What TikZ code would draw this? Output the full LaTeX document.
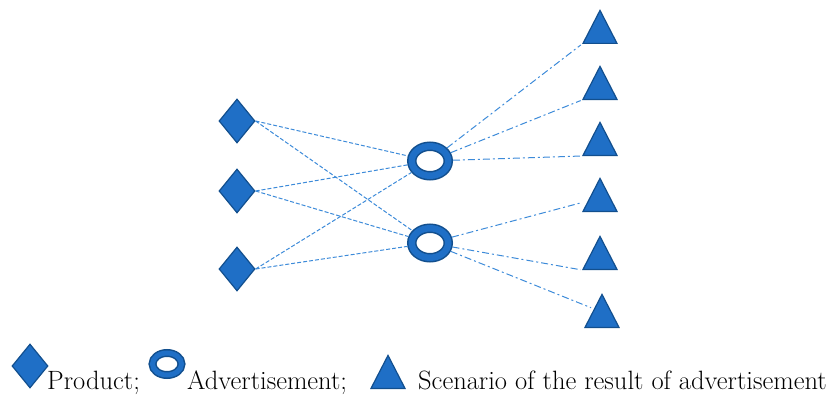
\documentclass[tikz,border=0pt]{standalone}
\usepackage{fontspec}
\usepackage{tikz}
\usetikzlibrary{shapes, arrows.meta, positioning}
\definecolor{azul}{HTML}{1F6FC6}
\definecolor{borde}{HTML}{124F8E}
\definecolor{linea}{HTML}{3D8BD9}
\tikzset{
  prod/.style={diamond, draw=borde, fill=azul, line width=1.2pt, minimum width=36, minimum height=44, inner sep=0},
  anuncio/.style={ellipse, draw=borde, double=azul, line width=1.5pt, double distance=6.5pt, fill=white, minimum width=36.5, minimum height=29.5, inner sep=0, outer sep=4.75pt},
  anuncio chico/.style={anuncio, double distance=5pt, minimum width=29, minimum height=22, outer sep=4pt},
  escenario/.style={isosceles triangle, isosceles triangle stretches, shape border rotate=90, draw=borde, fill=azul, line width=1.2pt, minimum width=34, minimum height=33, inner sep=0},
  enlace/.style={linea, line width=1pt, dash pattern=on 4pt off 2pt},
  resultado/.style={linea, line width=1pt, dash pattern=on 7pt off 3pt on 2pt off 3pt, shorten >=1.5pt},
  leyenda/.style={anchor=base west, inner sep=0, font=\fontsize{26.5}{30}\selectfont}
}
\begin{document}
\begin{tikzpicture}[x=1pt, y=-1pt]
    \useasboundingbox (0,0) rectangle (829,396);
    % Productos
    \foreach \y [count=\i] in {121,191,269} {
        \node[prod] (p\i) at (237,\y) {};
    }
    % Anuncios
    \node[anuncio] (r1) at (430,161) {};
    \node[anuncio] (r2) at (430,243) {};
    % Escenarios
    \foreach \x/\y [count=\i] in {600/44,600/100,600/156,600/212,600/270,602/328} {
        \node[escenario, anchor=lower side] (t\i) at (\x,\y) {};
    }
    % Conexiones
    \foreach \i in {1,2,3} {
        \foreach \j in {1,2} {
            \draw[enlace] (p\i.east) -- (r\j);
        }
    }
    \foreach \j in {1,2,3} {
        \draw[resultado] (r1) -- (t\j.left corner);
    }
    \draw[resultado, shorten >=6pt] (r2) -- (t4.west);
    \draw[resultado] (r2) -- (t5.left corner);
    \draw[resultado, shorten >=3pt] (r2) -- (t6.north west);
    % Leyenda
    \node[prod] (lp) at (30,366) {};
    \node[leyenda] (lpt) at (47,389) {Product;};
    \node[anuncio chico] (lr) at (167,364) {};
    \node[leyenda] (lrt) at (187,389) {Advertisement;};
    \node[escenario, anchor=lower side] (lt) at (388,389) {};
    \node[leyenda] (ltt) at (418,389) {Scenario of the result of advertisement};
\end{tikzpicture}
\end{document}
